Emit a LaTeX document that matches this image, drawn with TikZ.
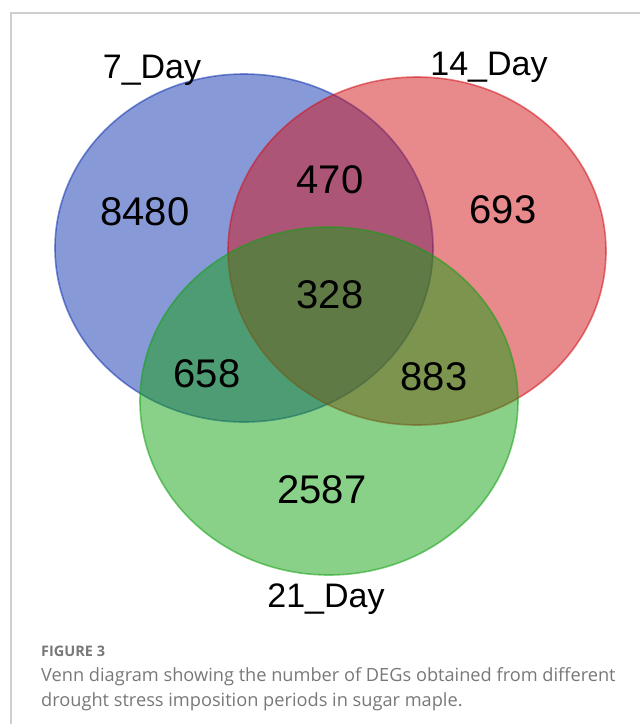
\documentclass[tikz,border=0pt]{standalone}
\usepackage{fontspec}
\setmainfont{Liberation Sans}
\newfontfamily\capfont{Open Sans}

\definecolor{setblue}{RGB}{17,51,175}
\definecolor{setred}{RGB}{209,19,25}
\definecolor{setgreen}{RGB}{19,161,19}
\definecolor{capgray}{RGB}{120,120,120}
\definecolor{framegray}{RGB}{206,206,206}

\begin{document}
\begin{tikzpicture}[
    x=1pt, y=-1pt,
    every node/.style={inner sep=0pt},
    setfill/.style={fill=#1, fill opacity=0.5, draw=#1, draw opacity=0.55, line width=1.6pt},
    count/.style={font=\fontsize{40}{40}\selectfont, anchor=base},
    setname/.style={font=\fontsize{34}{34}\selectfont, anchor=base},
    captext/.style={font=\capfont\fontsize{18.2}{25}\selectfont, text=capgray, anchor=base west},
]
\useasboundingbox (0,0) rectangle (640,724);

% Radii of the three sets
\def\rx{189}
\def\ry{174}

% --- Frame ---
\draw[framegray, line width=1.2pt] (11,724) -- (11,13) -- (640,13);

% --- Sets (drawn in order: blue, red, green) ---
\path[setfill=setblue]  (244,248) ellipse [x radius=\rx, y radius=\ry];
\path[setfill=setred]   (417,251) ellipse [x radius=\rx, y radius=\ry];
\path[setfill=setgreen] (329,401) ellipse [x radius=\rx, y radius=\ry];

% --- Set names ---
\node[setname] (d7)  at (152,78)  {7\_Day};
\node[setname] (d14) at (489,75)  {14\_Day};
\node[setname] (d21) at (326,607) {21\_Day};

% --- Counts ---
\node[count] (only7)   at (145,225) {8480};
\node[count] (only14)  at (503,223) {693};
\node[count] (only21)  at (322,503) {2587};
\node[count] (d7d14)   at (330,193) {470};
\node[count] (d7d21)   at (207,387) {658};
\node[count] (d14d21)  at (434,390) {883};
\node[count] (all)     at (330,308) {328};

% --- Caption ---
\node[font=\capfont\bfseries\fontsize{14.5}{14.5}\selectfont, text=capgray, anchor=base west]
    (figno) at (41,656) {FIGURE 3};
\node[captext] (capA) at (41,681)
    {Venn diagram showing the number of DEGs obtained from different};
\node[captext] (capB) at (41,706)
    {drought stress imposition periods in sugar maple.};

\end{tikzpicture}
\end{document}
